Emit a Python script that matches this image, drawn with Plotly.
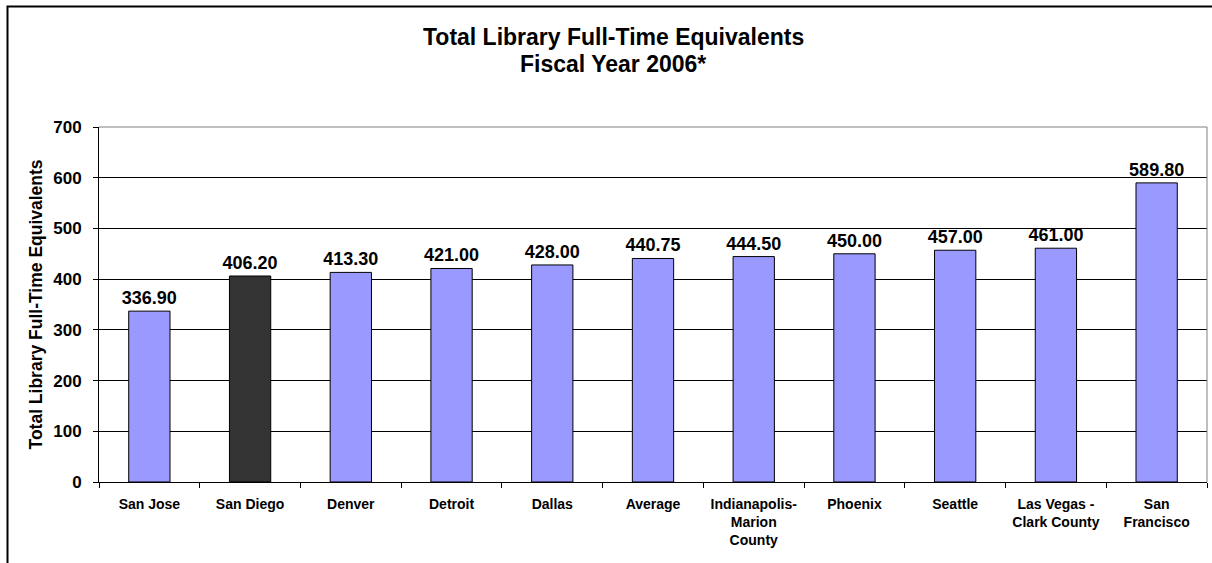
import plotly.graph_objects as go

categories = ["San Jose", "San Diego", "Denver", "Detroit", "Dallas", "Average",
              "Indianapolis-<br>Marion<br>County", "Phoenix", "Seattle",
              "Las Vegas -<br>Clark County", "San<br>Francisco"]
values = [336.90, 406.20, 413.30, 421.00, 428.00, 440.75, 444.50, 450.00, 457.00, 461.00, 589.80]
highlight = "San Diego"
y_ticks = [0, 100, 200, 300, 400, 500, 600, 700]

FONT = "Liberation Sans, Arial, sans-serif"
W, H = 1212, 563
L, R, T, B = 99, 5, 127, 81
pw, ph = W - L - R, H - T - B

def px_x(x):
    return (x - L) / pw

def px_y(y):
    return (H - B - y) / ph

colors = ["#333333" if c == highlight else "#9999FF" for c in categories]

fig = go.Figure(go.Bar(
    x=categories, y=values,
    marker=dict(color=colors, line=dict(color="#000000", width=1)),
    text=[f"{v:.2f}" for v in values],
    textposition="outside",
    constraintext="none",
    textfont=dict(family=FONT, size=18, color="#000000", weight="bold"),
    cliponaxis=False,
    hoverinfo="skip",
))

fig.update_layout(
    width=W, height=H,
    margin=dict(l=L, r=R, t=T, b=B),
    paper_bgcolor="white", plot_bgcolor="white",
    bargap=0.59,
    showlegend=False,
    font=dict(family=FONT, color="#000000"),
    xaxis=dict(
        type="category",
        showline=True, linecolor="#000000", linewidth=1,
        ticks="outside", tickson="boundaries", ticklen=5, tickcolor="#000000",
        ticklabelstandoff=9,
        tickfont=dict(family=FONT, size=14, weight="bold"),
        showgrid=False,
    ),
    yaxis=dict(
        range=[0, 700], tickvals=y_ticks,
        showline=True, linecolor="#000000", linewidth=1,
        ticks="outside", ticklen=5, tickcolor="#000000",
        ticklabelstandoff=8,
        tickfont=dict(family=FONT, size=17, weight="bold"),
        showgrid=True, gridcolor="#000000", gridwidth=1,
        zeroline=False,
    ),
    annotations=[
        dict(text="Total Library Full-Time Equivalents", xref="paper", yref="paper",
             x=px_x(613), y=px_y(37), xanchor="center", yanchor="middle", showarrow=False,
             font=dict(family=FONT, size=23, weight="bold")),
        dict(text="Fiscal Year 2006*", xref="paper", yref="paper",
             x=px_x(613), y=px_y(63.5), xanchor="center", yanchor="middle", showarrow=False,
             font=dict(family=FONT, size=23, weight="bold")),
        dict(text="Total Library Full-Time Equivalents", xref="paper", yref="paper",
             x=px_x(35), y=0.5, xanchor="center", yanchor="middle", showarrow=False,
             textangle=-90, font=dict(family=FONT, size=17.5, weight="bold")),
    ],
    shapes=[
        dict(type="line", xref="paper", yref="paper", x0=0, x1=1, y0=1, y1=1,
             line=dict(color="#808080", width=1)),
        dict(type="line", xref="paper", yref="paper", x0=1, x1=1, y0=0, y1=1,
             line=dict(color="#808080", width=1)),
        dict(type="rect", xref="paper", yref="paper",
             x0=px_x(7.5), x1=px_x(1300), y0=px_y(700), y1=px_y(6.5),
             line=dict(color="#000000", width=2), fillcolor="rgba(0,0,0,0)"),
    ],
)

fig.write_html("out.html", config={"displayModeBar": False},
               post_script="document.body.style.margin='0';")
